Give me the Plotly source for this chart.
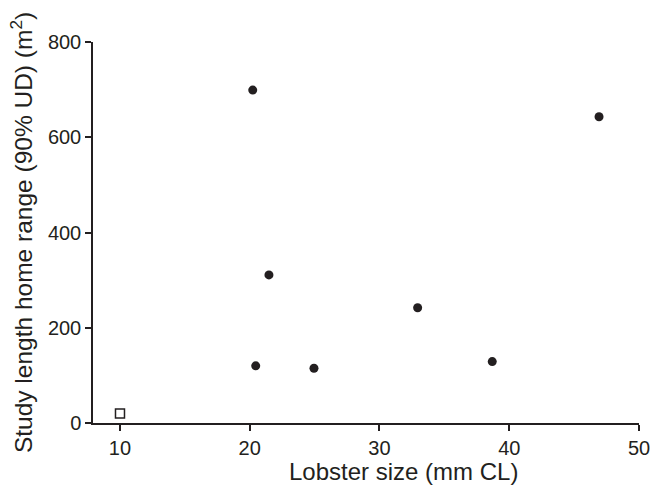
import plotly.graph_objects as go

x_filled = [20.23, 46.92, 21.48, 32.94, 20.46, 24.95, 38.69]
y_filled = [699, 643, 311, 242, 120, 115, 129]
x_open = [10.0]
y_open = [20]

x_ticks = [10, 20, 30, 40, 50]
y_ticks = [0, 200, 400, 600, 800]

ink = "#231f20"
font = "Liberation Sans, Arial, Helvetica, sans-serif"

fig = go.Figure()
fig.add_trace(go.Scatter(x=x_filled, y=y_filled, mode="markers",
                         marker=dict(symbol="circle", size=9, color=ink, line=dict(width=0)),
                         showlegend=False))
fig.add_trace(go.Scatter(x=x_open, y=y_open, mode="markers",
                         marker=dict(symbol="square-open", size=9, color=ink, line=dict(width=1.5)),
                         showlegend=False))

fig.update_layout(
    width=663, height=486,
    margin=dict(l=93, r=24, t=42, b=63),
    paper_bgcolor="white", plot_bgcolor="white",
    font=dict(family=font, color=ink, size=20),
    xaxis=dict(range=[7.92, 50], tickvals=x_ticks, showgrid=False, zeroline=False,
               showline=True, linecolor=ink, linewidth=1.5, automargin=False,
               ticks="outside", ticklen=6, tickwidth=1.5, tickcolor=ink,
               tickfont=dict(size=20, color=ink)),
    yaxis=dict(range=[0, 800], tickvals=y_ticks, showgrid=False, zeroline=False,
               showline=True, linecolor=ink, linewidth=1.5, automargin=False,
               ticks="outside", ticklen=6, tickwidth=1.5, tickcolor=ink,
               tickfont=dict(size=20, color=ink),
               title=dict(text="Study length home range (90% UD) (m<sup>2</sup>)",
                          font=dict(size=24.5, color=ink), standoff=8)),
    annotations=[dict(text="Lobster size (mm CL)", xref="paper", yref="paper",
                      x=0.568, y=-0.1273, xanchor="center", yanchor="middle",
                      showarrow=False, borderpad=0, font=dict(size=24, color=ink))],
)

fig.write_html("out.html")
